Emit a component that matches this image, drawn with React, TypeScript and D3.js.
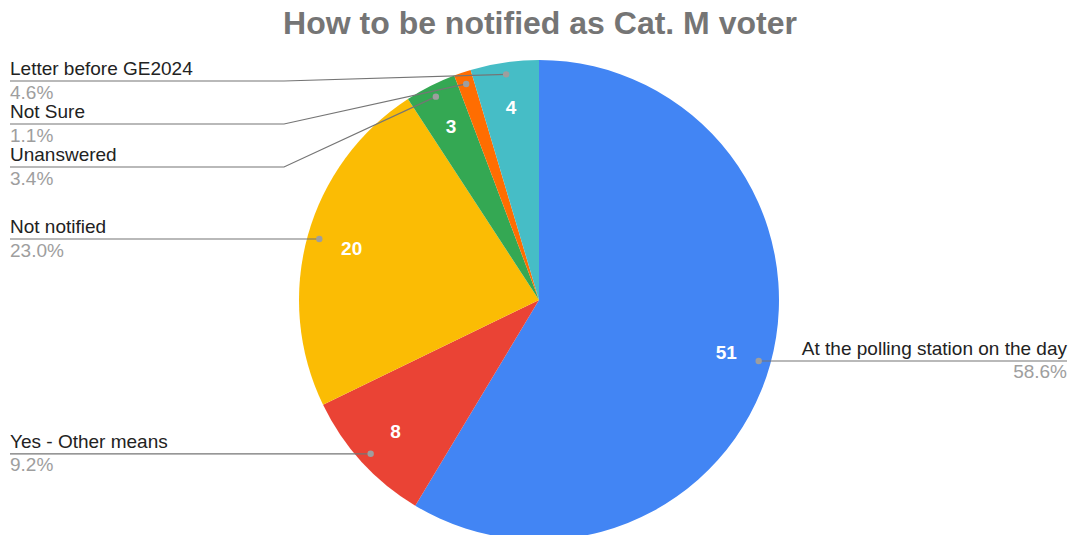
import React, { useRef, useEffect } from 'react';
import * as d3 from 'd3';

// Slices in clockwise order from 12 o'clock
const categories = [
    "At the polling station on the day",
    "Yes - Other means",
    "Not notified",
    "Unanswered",
    "Not Sure",
    "Letter before GE2024"
];
const counts = [51, 8, 20, 3, 1, 4];
const colors = ["#4285F4", "#EA4335", "#FBBC04", "#34A853", "#FF6D01", "#46BDC6"];
const title = "How to be notified as Cat. M voter";

const App = () => {
    const chartRef = useRef<HTMLDivElement | null>(null);

    useEffect(() => {
        const width = 1071, height = 535;
        const cx = 539, cy = 300, radius = 240;
        const font = "Arial, 'Liberation Sans', sans-serif";

        d3.select(chartRef.current).select("svg").remove();

        const svg = d3.select(chartRef.current)
            .append("svg")
            .attr("width", width)
            .attr("height", height)
            .style("display", "block");

        svg.append("rect").attr("width", width).attr("height", height).attr("fill", "#fff");

        // Title
        svg.append("text")
            .attr("x", 540)
            .attr("y", 34)
            .attr("text-anchor", "middle")
            .attr("font-family", font)
            .attr("font-size", 32)
            .attr("font-weight", "bold")
            .attr("fill", "#757575")
            .text(title);

        const data = categories.map((name, i) => ({ name, value: counts[i], color: colors[i] }));
        const total = d3.sum(counts);

        const pie = d3.pie<any>().value(d => d.value).sort(null);
        const arcs = pie(data);

        const arc = d3.arc<any>().innerRadius(0).outerRadius(radius);
        const labelArc = d3.arc<any>().innerRadius(radius * 0.81).outerRadius(radius * 0.81);
        const dotArc = d3.arc<any>().innerRadius(radius * 0.95).outerRadius(radius * 0.95);

        const g = svg.append("g").attr("transform", `translate(${cx},${cy})`);

        g.selectAll("path.slice")
            .data(arcs)
            .join("path")
            .attr("class", "slice")
            .attr("d", arc)
            .attr("fill", d => d.data.color);

        // Values inside slices
        g.selectAll("text.val")
            .data(arcs)
            .join("text")
            .attr("class", "val")
            .attr("transform", d => `translate(${labelArc.centroid(d)})`)
            .attr("text-anchor", "middle")
            .attr("dy", "0.35em")
            .attr("font-family", font)
            .attr("font-size", 19)
            .attr("font-weight", "bold")
            .attr("fill", "#fff")
            .text(d => (d.endAngle - d.startAngle > 0.15 ? d.data.value : ""));

        // Leader line layout
        const items = arcs.map(d => {
            const [dx, dy] = dotArc.centroid(d);
            const mid = (d.startAngle + d.endAngle) / 2;
            return { d, x: cx + dx, y: cy + dy, right: mid < Math.PI, ly: 0 };
        });

        const spacing = 43, minY = 81;
        [false, true].forEach(side => {
            const list = items.filter(it => it.right === side).sort((a, b) => a.y - b.y);
            let prev = minY - spacing;
            list.forEach(it => {
                it.ly = Math.max(it.y, prev + spacing);
                prev = it.ly;
            });
        });

        const elbowX = cx - radius - 15;
        const leftX = 10, rightX = 1067;

        items.forEach(it => {
            const pts: [number, number][] = it.right
                ? [[it.x, it.y], [rightX, it.ly]]
                : (Math.abs(it.ly - it.y) < 1
                    ? [[it.x, it.y], [leftX, it.ly]]
                    : [[it.x, it.y], [elbowX, it.ly], [leftX, it.ly]]);

            svg.append("path")
                .attr("d", d3.line()(pts))
                .attr("fill", "none")
                .attr("stroke", "#757575")
                .attr("stroke-width", 1.2);

            svg.append("circle")
                .attr("cx", it.x)
                .attr("cy", it.y)
                .attr("r", 3.2)
                .attr("fill", "#9e9e9e");

            const tx = it.right ? rightX : leftX;
            const anchor = it.right ? "end" : "start";

            svg.append("text")
                .attr("x", tx)
                .attr("y", it.ly - 6)
                .attr("text-anchor", anchor)
                .attr("font-family", font)
                .attr("font-size", 19)
                .attr("fill", "#222")
                .text(it.d.data.name);

            svg.append("text")
                .attr("x", tx)
                .attr("y", it.ly + 17.5)
                .attr("text-anchor", anchor)
                .attr("font-family", font)
                .attr("font-size", 19)
                .attr("fill", "#9e9e9e")
                .text((it.d.data.value / total * 100).toFixed(1) + "%");
        });
    }, []);

    return (
        <div ref={chartRef} style={{ position: "absolute", left: 0, top: 0 }}></div>
    );
};

export default App;
